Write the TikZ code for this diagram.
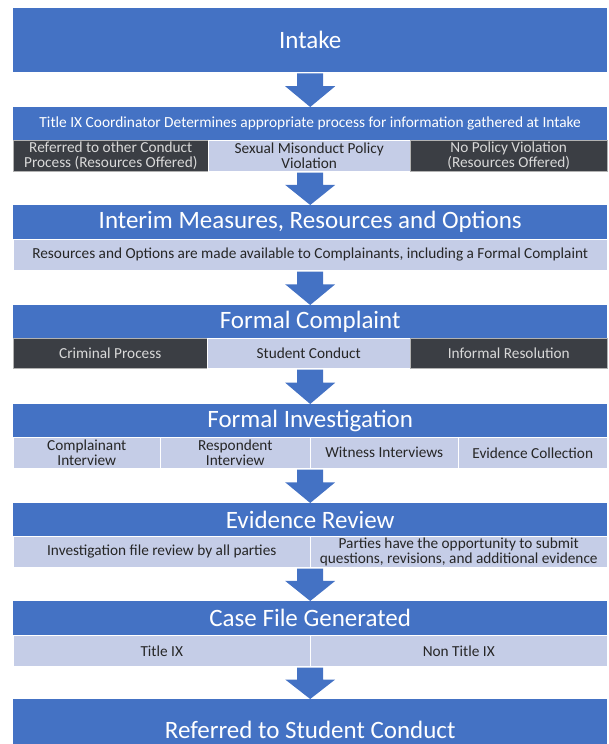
\documentclass[tikz,border=0pt]{standalone}
\usepackage{fontspec}
\setmainfont{Carlito}
\usetikzlibrary{calc}
\definecolor{stageblue}{HTML}{4472C4}
\definecolor{optlight}{HTML}{C5CDE7}
\definecolor{optdark}{HTML}{3B3E44}
\definecolor{inkdark}{HTML}{262626}
\definecolor{inklight}{HTML}{D9D9D9}
\newcommand{\blockarrow}[2]{\fill[stageblue] let \p1=(#1.south), \p2=(#2.north), \n1={\y1-0.4*(\y1-\y2)} in
	(\x2-13pt,\y1-1pt) -- (\x2+13pt,\y1-1pt) -- (\x2+13pt,\n1) -- (\x2+25pt,\n1) -- (\x2,\y2) --
	(\x2-25pt,\n1) -- (\x2-13pt,\n1) -- cycle}

\begin{document}
\begin{tikzpicture}[x=1pt,y=-1pt,
	stage/.style={fill=stageblue,text=white,anchor=north west,inner sep=0pt,minimum width=594pt,font=\fontsize{25}{27}\selectfont},
	cell/.style={anchor=north west,inner sep=0pt,align=center,draw=white,line width=0.5pt,font=\fontsize{15.3}{15.2}\selectfont},
	lightcell/.style={cell,fill=optlight,text=inkdark},
	darkcell/.style={cell,fill=optdark,text=inklight,draw=gray!60}]
	\useasboundingbox (0,0) rectangle (608,744);
	\clip (0,0) rectangle (608,744);
	\node[stage,minimum height=64pt] (intake) at (13,8) {Intake};
	\node[stage,minimum height=33pt,font=\fontsize{15.4}{16}\selectfont] (coord) at (13,107) {Title IX Coordinator Determines appropriate process for information gathered at Intake};
	\node[darkcell,minimum width=195pt,minimum height=31pt] (other) at (13,140) {Referred to other Conduct\\Process (Resources Offered)};
	\node[lightcell,minimum width=202pt,minimum height=31pt] (sexual) at (208,140) {Sexual Misonduct Policy\\Violation};
	\node[darkcell,minimum width=197pt,minimum height=31pt] (nopolicy) at (410,140) {No Policy Violation\\(Resources Offered)};
	\node[stage,minimum height=34pt] (interim) at (13,205) {Interim Measures, Resources and Options};
	\node[lightcell,minimum width=594pt,minimum height=31pt] (options) at (13,239) {Resources and Options are made available to Complainants, including a Formal Complaint};
	\node[stage,minimum height=33pt] (formal) at (13,305) {Formal Complaint};
	\node[darkcell,minimum width=194pt,minimum height=30pt] (criminal) at (13,338) {Criminal Process};
	\node[lightcell,minimum width=203pt,minimum height=30pt] (conduct) at (207,338) {Student Conduct};
	\node[darkcell,minimum width=197pt,minimum height=30pt] (informal) at (410,338) {Informal Resolution};
	\node[stage,minimum height=33pt] (invest) at (13,404) {Formal Investigation};
	\node[lightcell,minimum width=147pt,minimum height=31pt] (complainant) at (13,437) {Complainant\\Interview};
	\node[lightcell,minimum width=150pt,minimum height=31pt] (respondent) at (160,437) {Respondent\\Interview};
	\node[lightcell,minimum width=148pt,minimum height=31pt] (witness) at (310,437) {Witness Interviews};
	\node[lightcell,minimum width=149pt,minimum height=31pt] (collection) at (458,437) {Evidence Collection};
	\node[stage,minimum height=33pt] (review) at (13,503) {Evidence Review};
	\node[lightcell,minimum width=297pt,minimum height=31pt] (filereview) at (13,536) {Investigation file review by all parties};
	\node[lightcell,minimum width=297pt,minimum height=31pt] (submit) at (310,536) {Parties have the opportunity to submit\\questions, revisions, and additional evidence};
	\node[stage,minimum height=34pt] (casefile) at (13,601) {Case File Generated};
	\node[lightcell,minimum width=297pt,minimum height=31pt] (titleix) at (13,635) {Title IX};
	\node[lightcell,minimum width=297pt,minimum height=31pt] (nontitle) at (310,635) {Non Title IX};
	\node[stage,minimum height=61pt] (referred) at (13,699) {Referred to Student Conduct};
	\blockarrow{intake}{coord};
	\blockarrow{sexual}{interim};
	\blockarrow{options}{formal};
	\blockarrow{conduct}{invest};
	\blockarrow{witness}{review};
	\blockarrow{submit}{casefile};
	\blockarrow{nontitle}{referred};
\end{tikzpicture}
\end{document}
